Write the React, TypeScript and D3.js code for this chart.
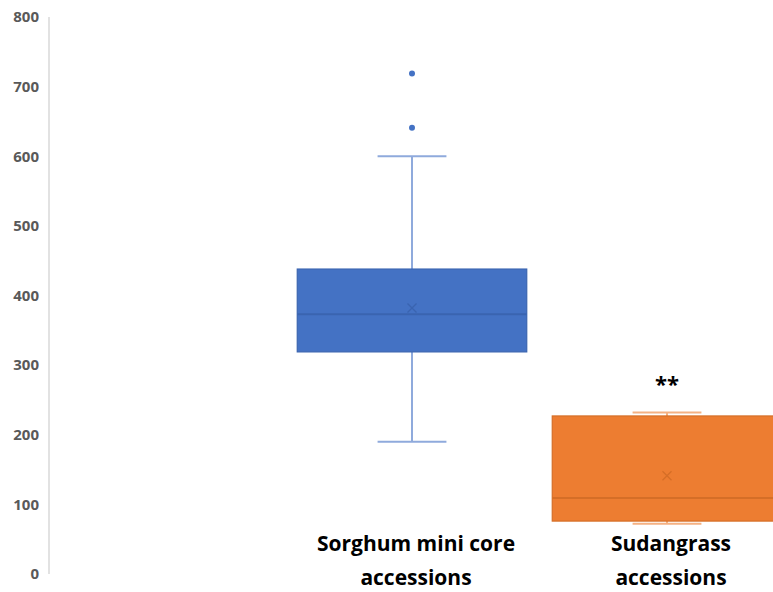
import React from "react";
import * as d3 from "d3";

const W = 773;
const H = 592;

const categories = ["", "Sorghum mini core accessions", "Sudangrass accessions"];
const labelLines = [[], ["Sorghum mini core", "accessions"], ["Sudangrass", "accessions"]];
const whiskerLow = [null, 190, 72];
const q1 = [null, 319, 76];
const median = [null, 373, 109];
const q3 = [null, 438, 227];
const whiskerHigh = [null, 600, 232];
const means = [null, 382, 141];
const outliers = [[], [719, 641], []];
const significance = ["", "", "**"];
const yTicks = [0, 100, 200, 300, 400, 500, 600, 700, 800];

const fills = ["#4472C4", "#4472C4", "#ED7D31"];
const strokes = ["#3A64B0", "#3A64B0", "#D56E27"];
const whiskerColors = ["#8FAADC", "#8FAADC", "#F4B183"];

export default function App() {
  const x = d3.scaleBand<string>().domain(categories).range([29.5, 794.5]).paddingInner(0).paddingOuter(0);
  const y = d3.scaleLinear().domain([0, 800]).range([574, 17]);
  const boxW = x.bandwidth() * 0.9;
  const capW = boxW * 0.3;

  return (
    <svg
      width={W}
      height={H}
      style={{ position: "fixed", left: 0, top: 0, background: "#fff" }}
      fontFamily="'Open Sans', 'Liberation Sans', sans-serif"
    >
      <rect x={0} y={0} width={W} height={H} fill="#fff" />
      {/* value axis */}
      <line x1={49} x2={49} y1={y(800)} y2={y(0)} stroke="#D9D9D9" strokeWidth={1.5} />
      {yTicks.map((t) => (
        <text
          key={t}
          x={39}
          y={y(t)}
          dy="0.35em"
          textAnchor="end"
          fontSize={15}
          fontWeight={700}
          fill="#595959"
        >
          {t}
        </text>
      ))}

      {categories.map((c, i) => {
        if (q1[i] == null) return null;
        const cx = (x(c) as number) + x.bandwidth() / 2;
        const left = cx - boxW / 2;
        return (
          <g key={c}>
            {/* whiskers */}
            <line x1={cx} x2={cx} y1={y(whiskerHigh[i] as number)} y2={y(q3[i] as number)} stroke={whiskerColors[i]} strokeWidth={2} />
            <line x1={cx} x2={cx} y1={y(q1[i] as number)} y2={y(whiskerLow[i] as number)} stroke={whiskerColors[i]} strokeWidth={2} />
            <line x1={cx - capW / 2} x2={cx + capW / 2} y1={y(whiskerHigh[i] as number)} y2={y(whiskerHigh[i] as number)} stroke={whiskerColors[i]} strokeWidth={2} />
            <line x1={cx - capW / 2} x2={cx + capW / 2} y1={y(whiskerLow[i] as number)} y2={y(whiskerLow[i] as number)} stroke={whiskerColors[i]} strokeWidth={2} />
            {/* box */}
            <rect
              x={left}
              y={y(q3[i] as number)}
              width={boxW}
              height={y(q1[i] as number) - y(q3[i] as number)}
              fill={fills[i]}
              stroke={strokes[i]}
              strokeWidth={1.2}
            />
            <line x1={left} x2={left + boxW} y1={y(median[i] as number)} y2={y(median[i] as number)} stroke={strokes[i]} strokeWidth={2} />
            {/* mean marker */}
            <path
              d={`M${cx - 4.5},${y(means[i] as number) - 4.5}L${cx + 4.5},${y(means[i] as number) + 4.5}M${cx - 4.5},${y(means[i] as number) + 4.5}L${cx + 4.5},${y(means[i] as number) - 4.5}`}
              stroke={strokes[i]}
              strokeWidth={1.3}
              fill="none"
            />
            {outliers[i].map((o, k) => (
              <circle key={k} cx={cx} cy={y(o)} r={3} fill={fills[i]} />
            ))}
            {significance[i] && (
              <text x={cx} y={y(whiskerHigh[i] as number) - 20} textAnchor="middle" fontSize={22} fontWeight={700} fill="#000">
                {significance[i]}
              </text>
            )}
            {labelLines[i].map((ln, k) => (
              <text key={k} x={cx + 4} y={551 + k * 34} textAnchor="middle" fontSize={21} fontWeight={700} fill="#000">
                {ln}
              </text>
            ))}
          </g>
        );
      })}
    </svg>
  );
}
